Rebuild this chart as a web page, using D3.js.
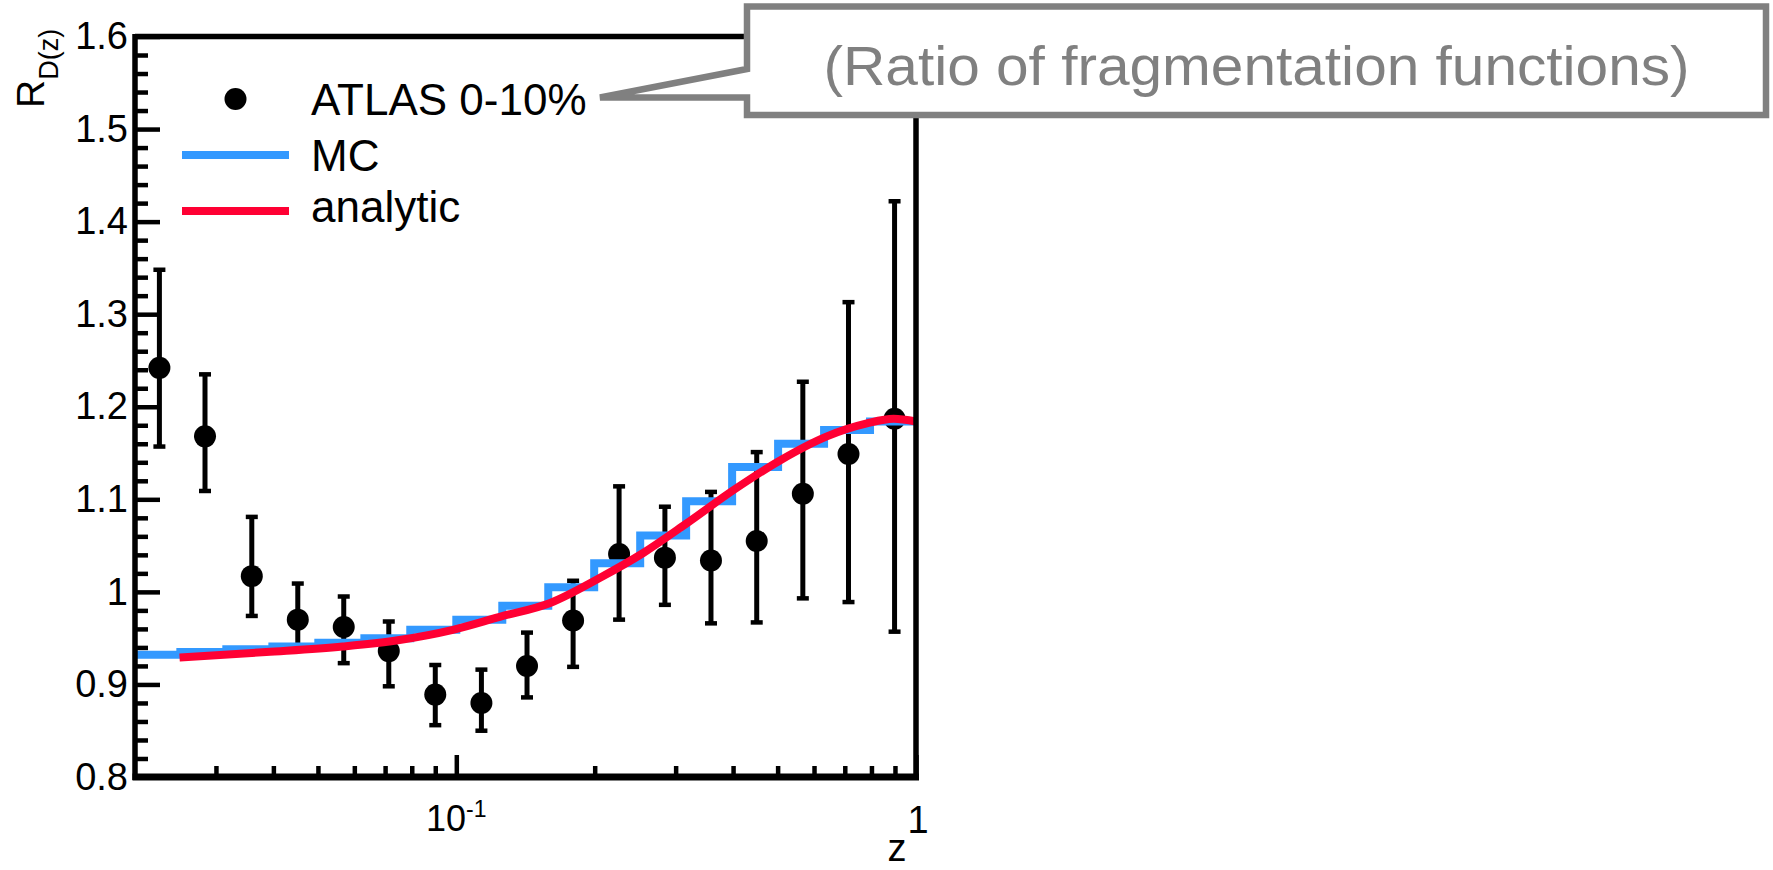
<!DOCTYPE html>
<html>
<head>
<meta charset="utf-8">
<script src="https://cdn.jsdelivr.net/npm/d3@7"></script>
<style>
  html, body { margin: 0; padding: 0; background: #fff; }
  svg { display: block; }
</style>
</head>
<body>
<div id="chart"></div>
<script>
// R_D(z) ratio chart: ATLAS 0-10% data vs MC histogram and analytic curve

// ATLAS points (bin centres in z) with error bar ends
const zPoints   = [0.0226, 0.0284, 0.0359, 0.0452, 0.0569, 0.0713, 0.0900, 0.1134, 0.1425, 0.1795, 0.2260, 0.2843, 0.3581, 0.4503, 0.5673, 0.7131, 0.8982];
const ratioAtlas = [1.242, 1.168, 1.017, 0.970, 0.962, 0.936, 0.889, 0.880, 0.920, 0.969, 1.041, 1.037, 1.034, 1.055, 1.106, 1.149, 1.187];
const errHigh   = [1.348, 1.235, 1.081, 1.009, 0.995, 0.968, 0.921, 0.916, 0.956, 1.012, 1.114, 1.092, 1.108, 1.151, 1.227, 1.313, 1.422];
const errLow    = [1.157, 1.109, 0.974, 0.941, 0.923, 0.898, 0.856, 0.850, 0.886, 0.919, 0.970, 0.986, 0.966, 0.967, 0.993, 0.989, 0.957];

// MC histogram: bin edges and bin contents
const mcEdges  = [0.02, 0.0251, 0.0316, 0.0398, 0.0501, 0.0631, 0.0794, 0.1, 0.1259, 0.1585, 0.1995, 0.2512, 0.3162, 0.3981, 0.5012, 0.6310, 0.7943, 1.0];
const mcValues = [0.932, 0.935, 0.938, 0.941, 0.945, 0.950, 0.959, 0.970, 0.985, 1.005, 1.031, 1.061, 1.098, 1.135, 1.160, 1.175, 1.184];

// analytic curve
const analyticZ = [0.025, 0.0386, 0.0566, 0.0752, 0.0983, 0.1243, 0.160, 0.205, 0.255, 0.317, 0.401, 0.506, 0.640, 0.782, 0.894, 1.0];
const analyticR = [0.929, 0.935, 0.941, 0.948, 0.959, 0.973, 0.988, 1.015, 1.042, 1.074, 1.110, 1.142, 1.168, 1.182, 1.187, 1.184];

// axis ticks
const yTicks = [0.8, 0.9, 1.0, 1.1, 1.2, 1.3, 1.4, 1.5, 1.6];
const yTickLabels = ['0.8', '0.9', '1', '1.1', '1.2', '1.3', '1.4', '1.5', '1.6'];
const xMajorTicks = [0.1, 1];
const xMinorTicks = [0.03, 0.04, 0.05, 0.06, 0.07, 0.08, 0.09, 0.2, 0.3, 0.4, 0.5, 0.6, 0.7, 0.8, 0.9];

const legendItems = ['ATLAS 0-10%', 'MC', 'analytic'];
const calloutText = '(Ratio of fragmentation functions)';

const FONT = "'Liberation Sans', Arial, sans-serif";
const BLUE = '#3399ff';
const RED = '#ff0033';
const GRAY = '#808080';

const W = 1773, H = 870;
const plotL = 135, plotR = 916, plotT = 36.5, plotB = 777;

const svg = d3.select('#chart')
    .append('svg')
    .attr('width', W)
    .attr('height', H);

const x = d3.scaleLog().domain([0.02, 1]).range([plotL, plotR]);
const y = d3.scaleLinear().domain([0.8, 1.6]).range([plotB, plotT]);

// --- data points (drawn first, lines go over them)
const pts = svg.append('g');
pts.selectAll('line.bar')
    .data(zPoints)
    .enter().append('line')
    .attr('x1', d => x(d)).attr('x2', d => x(d))
    .attr('y1', (d, i) => y(errHigh[i]))
    .attr('y2', (d, i) => y(errLow[i]))
    .style('stroke', '#000')
    .style('stroke-width', 5);
[errHigh, errLow].forEach(arr => {
    pts.selectAll(null)
        .data(zPoints)
        .enter().append('line')
        .attr('x1', d => x(d) - 6).attr('x2', d => x(d) + 6)
        .attr('y1', (d, i) => y(arr[i]))
        .attr('y2', (d, i) => y(arr[i]))
        .style('stroke', '#000')
        .style('stroke-width', 4.5);
});
pts.selectAll('circle')
    .data(zPoints)
    .enter().append('circle')
    .attr('cx', d => x(d))
    .attr('cy', (d, i) => y(ratioAtlas[i]))
    .attr('r', 11)
    .style('fill', '#000');

// --- MC step histogram
const mcSteps = [];
mcValues.forEach((v, i) => {
    mcSteps.push([mcEdges[i], v]);
    mcSteps.push([mcEdges[i + 1], v]);
});
svg.append('path')
    .datum(mcSteps)
    .attr('d', d3.line().x(d => x(d[0])).y(d => y(d[1])))
    .style('fill', 'none')
    .style('stroke', BLUE)
    .style('stroke-width', 8);

// --- analytic curve
svg.append('path')
    .datum(analyticZ.map((z, i) => [z, analyticR[i]]))
    .attr('d', d3.line().x(d => x(d[0])).y(d => y(d[1])).curve(d3.curveMonotoneX))
    .style('fill', 'none')
    .style('stroke', RED)
    .style('stroke-width', 8);

// --- axes
const yAxis = svg.append('g')
    .attr('transform', `translate(${plotL},0)`)
    .call(d3.axisLeft(y).tickValues(yTicks).tickSizeInner(-25).tickSizeOuter(0).tickPadding(7)
        .tickFormat((d, i) => yTickLabels[i]));
const yMinor = svg.append('g')
    .attr('transform', `translate(${plotL},0)`)
    .call(d3.axisLeft(y).tickValues(y.ticks(40).filter(t => Math.abs(t * 10 - Math.round(t * 10)) > 1e-6))
        .tickSizeInner(-13).tickSizeOuter(0).tickFormat(''));
const xAxis = svg.append('g')
    .attr('transform', `translate(0,${plotB})`)
    .call(d3.axisBottom(x).tickValues(xMajorTicks).tickSizeInner(-22).tickSizeOuter(0).tickFormat(''));
const xMinor = svg.append('g')
    .attr('transform', `translate(0,${plotB})`)
    .call(d3.axisBottom(x).tickValues(xMinorTicks).tickSizeInner(-11).tickSizeOuter(0).tickFormat(''));

[yAxis, yMinor, xAxis, xMinor].forEach(g => {
    g.select('.domain').remove();
    g.selectAll('.tick line').style('stroke', '#000').style('stroke-width', 4.5);
});
yAxis.selectAll('.tick text')
    .style('font-family', FONT)
    .style('font-size', '38px')
    .style('fill', '#000');

// x tick labels
const lab10 = svg.append('text')
    .attr('x', x(0.1)).attr('y', 830.5)
    .attr('text-anchor', 'middle')
    .style('font-family', FONT).style('font-size', '36px');
lab10.append('tspan').text('10');
lab10.append('tspan').attr('dy', -14).style('font-size', '23px').text('-1');

svg.append('text')
    .attr('x', x(1) + 2).attr('y', 833)
    .attr('text-anchor', 'middle')
    .style('font-family', FONT).style('font-size', '38px')
    .text('1');

svg.append('text')
    .attr('x', 897).attr('y', 861)
    .attr('text-anchor', 'middle')
    .style('font-family', FONT).style('font-size', '38px')
    .text('z');

// y title R_D(z)
const yTitle = svg.append('text')
    .attr('transform', 'translate(43.5,108) rotate(-90)')
    .style('font-family', FONT).style('font-size', '39px');
yTitle.append('tspan').text('R');
yTitle.append('tspan').attr('dy', 14).style('font-size', '27px').text('D(z)');

// --- frame
const frame = svg.append('g').style('stroke', '#000').style('fill', 'none');
frame.append('line').attr('x1', plotL).attr('x2', plotR).attr('y1', plotT).attr('y2', plotT).style('stroke-width', 5.5);
frame.append('line').attr('x1', plotR).attr('x2', plotR).attr('y1', plotT).attr('y2', plotB).style('stroke-width', 5.5);
frame.append('line').attr('x1', plotL).attr('x2', plotL).attr('y1', plotT - 2.5).attr('y2', plotB + 3).style('stroke-width', 5.5);
frame.append('line').attr('x1', plotL - 2.5).attr('x2', plotR + 3).attr('y1', plotB).attr('y2', plotB).style('stroke-width', 7);

// --- legend
const legendRows = [99, 155, 211];
const legend = svg.append('g');
legend.append('circle').attr('cx', 235.5).attr('cy', legendRows[0]).attr('r', 11).style('fill', '#000');
legend.append('line').attr('x1', 182).attr('x2', 289).attr('y1', legendRows[1]).attr('y2', legendRows[1])
    .style('stroke', BLUE).style('stroke-width', 8);
legend.append('line').attr('x1', 182).attr('x2', 289).attr('y1', legendRows[2]).attr('y2', legendRows[2])
    .style('stroke', RED).style('stroke-width', 8);
legend.selectAll('text')
    .data(legendItems)
    .enter().append('text')
    .attr('x', 311)
    .attr('y', (d, i) => legendRows[i] + (i < 2 ? 15.5 : 11))
    .style('font-family', FONT)
    .style('font-size', '44px')
    .style('fill', '#000')
    .text(d => d);

// --- callout box
const bx0 = 747, bx1 = 1766, by0 = 6.5, by1 = 115;
const callout = d3.path();
callout.moveTo(bx0, by0);
callout.lineTo(bx1, by0);
callout.lineTo(bx1, by1);
callout.lineTo(bx0, by1);
callout.lineTo(bx0, 97.5);
callout.lineTo(600, 97.5);
callout.lineTo(bx0, 69);
callout.closePath();
svg.append('path')
    .attr('d', callout.toString())
    .style('fill', '#fff')
    .style('stroke', GRAY)
    .style('stroke-width', 6.5)
    .style('stroke-linejoin', 'miter')
    .style('stroke-miterlimit', 10);

svg.append('text')
    .attr('x', (bx0 + bx1) / 2).attr('y', 85)
    .attr('text-anchor', 'middle')
    .attr('textLength', 866)
    .attr('lengthAdjust', 'spacingAndGlyphs')
    .style('font-family', FONT)
    .style('font-size', '55px')
    .style('fill', GRAY)
    .text(calloutText);
</script>
</body>
</html>
